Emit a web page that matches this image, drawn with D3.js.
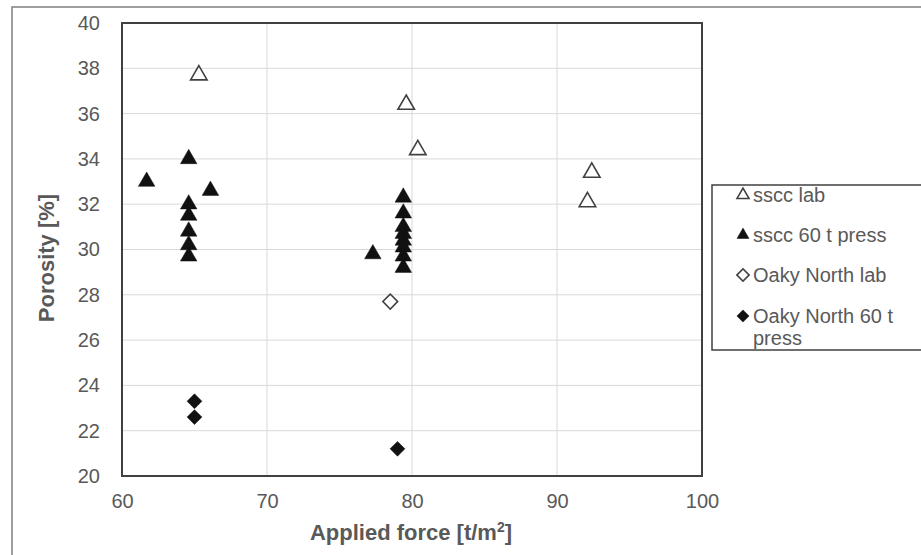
<!DOCTYPE html>
<html>
<head>
<meta charset="utf-8">
<script src="https://cdn.jsdelivr.net/npm/d3@7"></script>
<style>
  body { margin: 0; background: #fff; }
  svg { font-family: "Liberation Sans", Arial, sans-serif; }
</style>
</head>
<body>
<svg width="921" height="555"></svg>
<script>
// data
const ssccLabX = [65.3, 79.6, 80.4, 92.4, 92.1]
const ssccLabY = [37.7, 36.4, 34.4, 33.4, 32.1]

const ssccPressX = [61.7, 64.6, 66.1, 64.6, 64.6, 64.6, 64.6, 64.6, 77.3, 79.4, 79.4, 79.4, 79.4, 79.4, 79.4, 79.4, 79.4]
const ssccPressY = [33.0, 34.0, 32.6, 32.0, 31.5, 30.8, 30.2, 29.7, 29.8, 32.3, 31.6, 31.0, 30.7, 30.4, 30.1, 29.7, 29.2]

const oakyLabX = [78.5]
const oakyLabY = [27.7]

const oakyPressX = [65.0, 65.0, 79.0]
const oakyPressY = [23.3, 22.6, 21.2]

const xTicks = [60, 70, 80, 90, 100]
const yTicks = [20, 22, 24, 26, 28, 30, 32, 34, 36, 38, 40]

const legendLabels = ["sscc lab", "sscc 60 t press", "Oaky North lab", "Oaky North 60 t press"]

const svg = d3.select("svg")
const grey = "#595959"

// outer frame (runs off the picture on right and bottom)
svg.append("rect")
    .attr("x", 12).attr("y", 7)
    .attr("width", 940).attr("height", 580)
    .attr("fill", "none")
    .attr("stroke", "#7f7f7f")
    .attr("stroke-width", 1.5)

const x = d3.scaleLinear().domain([60, 100]).range([122, 702])
const y = d3.scaleLinear().domain([20, 40]).range([476, 23])

// gridlines
svg.append("g")
    .selectAll("line")
    .data(xTicks.slice(1, -1))
    .enter()
    .append("line")
    .attr("x1", d => x(d)).attr("x2", d => x(d))
    .attr("y1", y(20)).attr("y2", y(40))
    .attr("stroke", "#d9d9d9")

svg.append("g")
    .selectAll("line")
    .data(yTicks.slice(1, -1))
    .enter()
    .append("line")
    .attr("x1", x(60)).attr("x2", x(100))
    .attr("y1", d => y(d)).attr("y2", d => y(d))
    .attr("stroke", "#d9d9d9")

// axes, labels only
const xAxis = svg.append("g")
    .attr("transform", `translate(0,${y(20)})`)
    .call(d3.axisBottom(x).tickValues(xTicks).tickSize(0).tickPadding(18))
const yAxis = svg.append("g")
    .attr("transform", `translate(${x(60)},0)`)
    .call(d3.axisLeft(y).tickValues(yTicks).tickSize(0).tickPadding(22))

;[xAxis, yAxis].forEach(a => {
    a.select(".domain").remove()
    a.selectAll("text")
        .attr("fill", grey)
        .style("font-size", "20px")
        .style("font-family", "'Liberation Sans', Arial, sans-serif")
})

// plot border
svg.append("rect")
    .attr("x", x(60)).attr("y", y(40))
    .attr("width", x(100) - x(60)).attr("height", y(20) - y(40))
    .attr("fill", "none")
    .attr("stroke", "#404040")
    .attr("stroke-width", 2)

// axis titles
svg.append("text")
    .attr("x", 411).attr("y", 540)
    .attr("text-anchor", "middle")
    .attr("fill", grey)
    .style("font-size", "22px")
    .style("font-weight", "bold")
    .text("Applied force [t/m")
    .append("tspan")
    .attr("dy", -8)
    .style("font-size", "14px")
    .text("2")
    .select(function () { return this.parentNode })
    .append("tspan")
    .attr("dy", 8)
    .text("]")

svg.append("text")
    .attr("transform", "translate(54,258) rotate(-90)")
    .attr("text-anchor", "middle")
    .attr("fill", grey)
    .style("font-size", "22px")
    .style("font-weight", "bold")
    .text("Porosity [%]")

// markers
const tri = d3.symbol().type(d3.symbolTriangle)
const sq = d3.symbol().type(d3.symbolSquare)

const series = [
    { xs: ssccLabX, ys: ssccLabY, shape: "tri", filled: false },
    { xs: ssccPressX, ys: ssccPressY, shape: "tri", filled: true },
    { xs: oakyLabX, ys: oakyLabY, shape: "dia", filled: false },
    { xs: oakyPressX, ys: oakyPressY, shape: "dia", filled: true },
]

function drawMarker(sel, s, big) {
    const path = s.shape === "tri"
        ? tri.size(big ? 118 : 62)()
        : sq.size(big ? 110 : 75)()
    sel.attr("d", path)
        .attr("fill", s.filled ? "#111" : "#fff")
        .attr("stroke", s.filled ? "#111" : "#404040")
        .attr("stroke-width", s.filled ? 0.5 : 1.6)
}

series.forEach(s => {
    svg.append("g")
        .selectAll("path")
        .data(s.xs.map((d, i) => [d, s.ys[i]]))
        .enter()
        .append("path")
        .attr("transform", d => `translate(${x(d[0])},${y(d[1])})` + (s.shape === "dia" ? " rotate(45)" : ""))
        .call(sel => drawMarker(sel, s, true))
})

// legend
svg.append("rect")
    .attr("x", 712).attr("y", 185)
    .attr("width", 240).attr("height", 165)
    .attr("fill", "#fff")
    .attr("stroke", "#404040")
    .attr("stroke-width", 1.5)

const legendY = [202, 242, 282, 323]
series.forEach((s, i) => {
    svg.append("path")
        .attr("transform", `translate(743,${legendY[i] - 7})` + (s.shape === "dia" ? " rotate(45)" : ""))
        .call(sel => drawMarker(sel, s, false))
    const t = svg.append("text")
        .attr("x", 753).attr("y", legendY[i])
        .attr("fill", grey)
        .style("font-size", "20px")
    if (i === 3) {
        t.append("tspan").text("Oaky North 60 t")
        t.append("tspan").attr("x", 753).attr("dy", 22).text("press")
    } else {
        t.text(legendLabels[i])
    }
})
</script>
</body>
</html>
